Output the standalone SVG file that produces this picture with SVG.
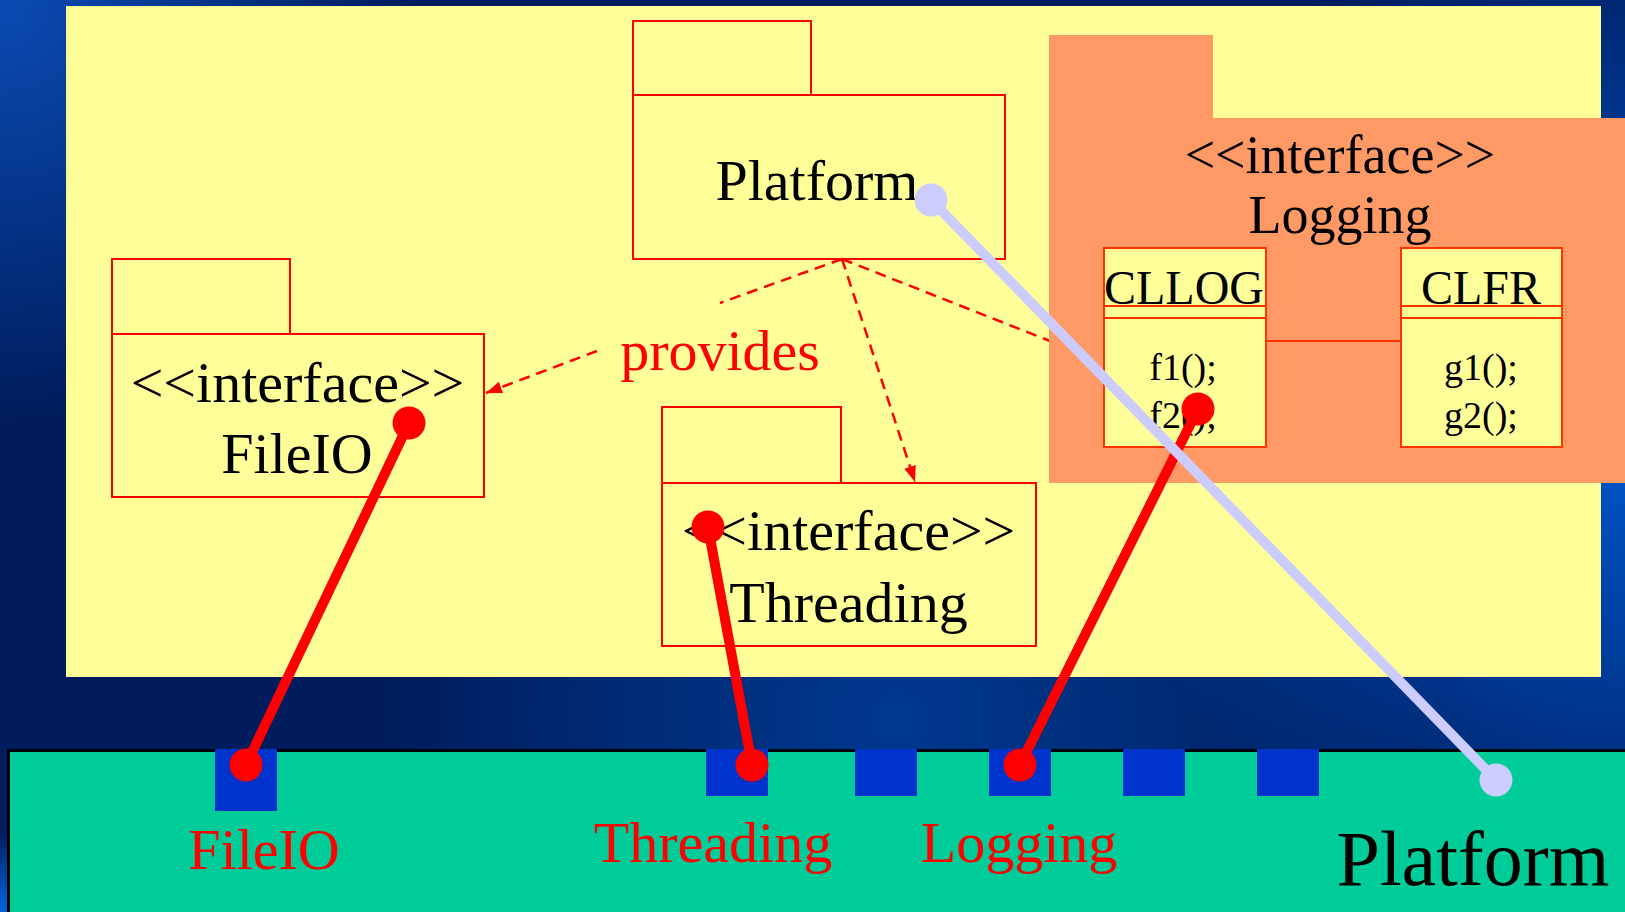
<svg xmlns="http://www.w3.org/2000/svg" width="1625" height="912" viewBox="0 0 1625 912">
  <defs>
    <radialGradient id="glowTL" cx="0" cy="0" r="420" gradientUnits="userSpaceOnUse">
      <stop offset="0" stop-color="#0a4cb4"/>
      <stop offset="1" stop-color="#0a4cb4" stop-opacity="0"/>
    </radialGradient>
    <radialGradient id="glowR" cx="1625" cy="420" r="520" gradientUnits="userSpaceOnUse">
      <stop offset="0" stop-color="#0058d0"/>
      <stop offset="1" stop-color="#0058d0" stop-opacity="0"/>
    </radialGradient>
    <radialGradient id="glowB" cx="900" cy="720" r="520" gradientUnits="userSpaceOnUse">
      <stop offset="0" stop-color="#00398f"/>
      <stop offset="1" stop-color="#00398f" stop-opacity="0"/>
    </radialGradient>
    <radialGradient id="glowBL" cx="0" cy="912" r="80" gradientUnits="userSpaceOnUse">
      <stop offset="0" stop-color="#0066e0"/>
      <stop offset="1" stop-color="#0066e0" stop-opacity="0"/>
    </radialGradient>
    <marker id="arrow" markerUnits="userSpaceOnUse" markerWidth="18" markerHeight="14" refX="16" refY="7" orient="auto">
      <path d="M0,1 L16,7 L0,13 Z" fill="#ff0000"/>
    </marker>
    <style>
      .pkg { fill: #ffff99; stroke: #ff0000; stroke-width: 2; }
      .cls { fill: #ffff99; stroke: #ff3300; stroke-width: 2; }
      .port { fill: #0033cc; }
      .t { font-family: "Liberation Serif", "Times New Roman", serif; text-anchor: middle; fill: #000; }
      .big { font-size: 58px; }
      .red { fill: #ff0000; }
      .dash { fill: none; stroke: #ff0000; stroke-width: 2.5; stroke-dasharray: 11 7; }
      .wire { fill: none; stroke: #ff0000; stroke-width: 10; }
      .wire2 { fill: none; stroke: #ccccff; stroke-width: 10; }
    </style>
  </defs>

  <!-- background -->
  <rect x="0" y="0" width="1625" height="912" fill="#001c5c"/>
  <rect x="0" y="0" width="1625" height="912" fill="url(#glowB)"/>
  <rect x="0" y="0" width="1625" height="912" fill="url(#glowTL)"/>
  <rect x="0" y="0" width="1625" height="912" fill="url(#glowR)"/>
  <rect x="0" y="0" width="1625" height="912" fill="url(#glowBL)"/>

  <!-- upper design area -->
  <rect x="66" y="6" width="1535" height="671" fill="#ffff99"/>

  <!-- lower runtime strip -->
  <g id="runtime">
    <rect x="8.5" y="750.5" width="1630" height="175" fill="#00cc99" stroke="#000" stroke-width="3"/>
    <rect class="port" x="215" y="749" width="62" height="62"/>
    <rect class="port" x="706" y="749" width="62" height="47"/>
    <rect class="port" x="855" y="749" width="62" height="47"/>
    <rect class="port" x="989" y="749" width="62" height="47"/>
    <rect class="port" x="1123" y="749" width="62" height="47"/>
    <rect class="port" x="1257" y="749" width="62" height="47"/>
    <text class="t big red" x="264" y="869">FileIO</text>
    <text class="t big red" x="713" y="862">Threading</text>
    <text class="t big red" x="1019" y="862">Logging</text>
    <text class="t" x="1473" y="885" font-size="78">Platform</text>
  </g>

  <!-- Platform package -->
  <g id="platform">
    <rect class="pkg" x="633" y="21" width="178" height="74"/>
    <rect class="pkg" x="633" y="95" width="372" height="164"/>
    <text class="t big" x="817" y="200">Platform</text>
  </g>

  <!-- FileIO package -->
  <g id="fileio">
    <rect class="pkg" x="112" y="259" width="178" height="75"/>
    <rect class="pkg" x="112" y="334" width="372" height="163"/>
    <text class="t big" x="297.5" y="402">&lt;&lt;interface&gt;&gt;</text>
    <text class="t big" x="297" y="473">FileIO</text>
  </g>

  <!-- Threading package -->
  <g id="threading">
    <rect class="pkg" x="662" y="407" width="179" height="76"/>
    <rect class="pkg" x="662" y="483" width="374" height="163"/>
    <text class="t big" x="848.5" y="550">&lt;&lt;interface&gt;&gt;</text>
    <text class="t big" x="848.5" y="622">Threading</text>
  </g>

  <!-- dependency arrows from Platform -->
  <g id="dependencies">
    <line class="dash" x1="842" y1="259" x2="720" y2="303"/>
    <line class="dash" x1="597" y1="351" x2="486" y2="393" marker-end="url(#arrow)"/>
    <line class="dash" x1="842" y1="259" x2="915" y2="482" marker-end="url(#arrow)"/>
    <line class="dash" x1="842" y1="259" x2="1060" y2="345"/>
    <text class="t big red" x="720" y="370">provides</text>
  </g>

  <!-- Logging package with its classes -->
  <g id="logging">
    <rect x="1049" y="35" width="164" height="84" fill="#ff9966"/>
    <rect x="1049" y="118" width="580" height="365" fill="#ff9966"/>
    <text class="t" x="1340" y="173" font-size="54">&lt;&lt;interface&gt;&gt;</text>
    <text class="t" x="1340" y="233" font-size="54">Logging</text>
    <line x1="1266" y1="341" x2="1401" y2="341" stroke="#ff3300" stroke-width="2"/>
  </g>

  <g id="cllog">
    <rect class="cls" x="1104" y="248" width="162" height="199"/>
    <line x1="1104" y1="306" x2="1266" y2="306" stroke="#ff3300" stroke-width="2"/>
    <line x1="1104" y1="318" x2="1266" y2="318" stroke="#ff3300" stroke-width="2"/>
    <text class="t" x="1184" y="304" font-size="48">CLLOG</text>
    <text class="t" x="1183" y="380" font-size="38">f1();</text>
    <text class="t" x="1183" y="428" font-size="38">f2();</text>
  </g>

  <g id="clfr">
    <rect class="cls" x="1401" y="248" width="161" height="199"/>
    <line x1="1401" y1="306" x2="1562" y2="306" stroke="#ff3300" stroke-width="2"/>
    <line x1="1401" y1="318" x2="1562" y2="318" stroke="#ff3300" stroke-width="2"/>
    <text class="t" x="1481" y="304" font-size="48">CLFR</text>
    <text class="t" x="1481" y="380" font-size="38">g1();</text>
    <text class="t" x="1481" y="428" font-size="38">g2();</text>
  </g>

  <!-- mapping wires between design and runtime -->
  <g id="connectors">
    <line class="wire" x1="409" y1="423" x2="246" y2="765"/>
    <circle cx="409" cy="423" r="16.5" fill="#ff0000"/>
    <circle cx="246" cy="765" r="16.5" fill="#ff0000"/>

    <line class="wire" x1="708" y1="527" x2="752" y2="765"/>
    <circle cx="708" cy="527" r="16.5" fill="#ff0000"/>
    <circle cx="752" cy="765" r="16.5" fill="#ff0000"/>

    <line class="wire" x1="1198" y1="409" x2="1020" y2="765"/>
    <circle cx="1198" cy="409" r="16.5" fill="#ff0000"/>
    <circle cx="1020" cy="765" r="16.5" fill="#ff0000"/>

    <line class="wire2" x1="931" y1="200" x2="1496" y2="780"/>
    <circle cx="931" cy="200" r="16.5" fill="#ccccff"/>
    <circle cx="1496" cy="780" r="16.5" fill="#ccccff"/>
  </g>
</svg>
